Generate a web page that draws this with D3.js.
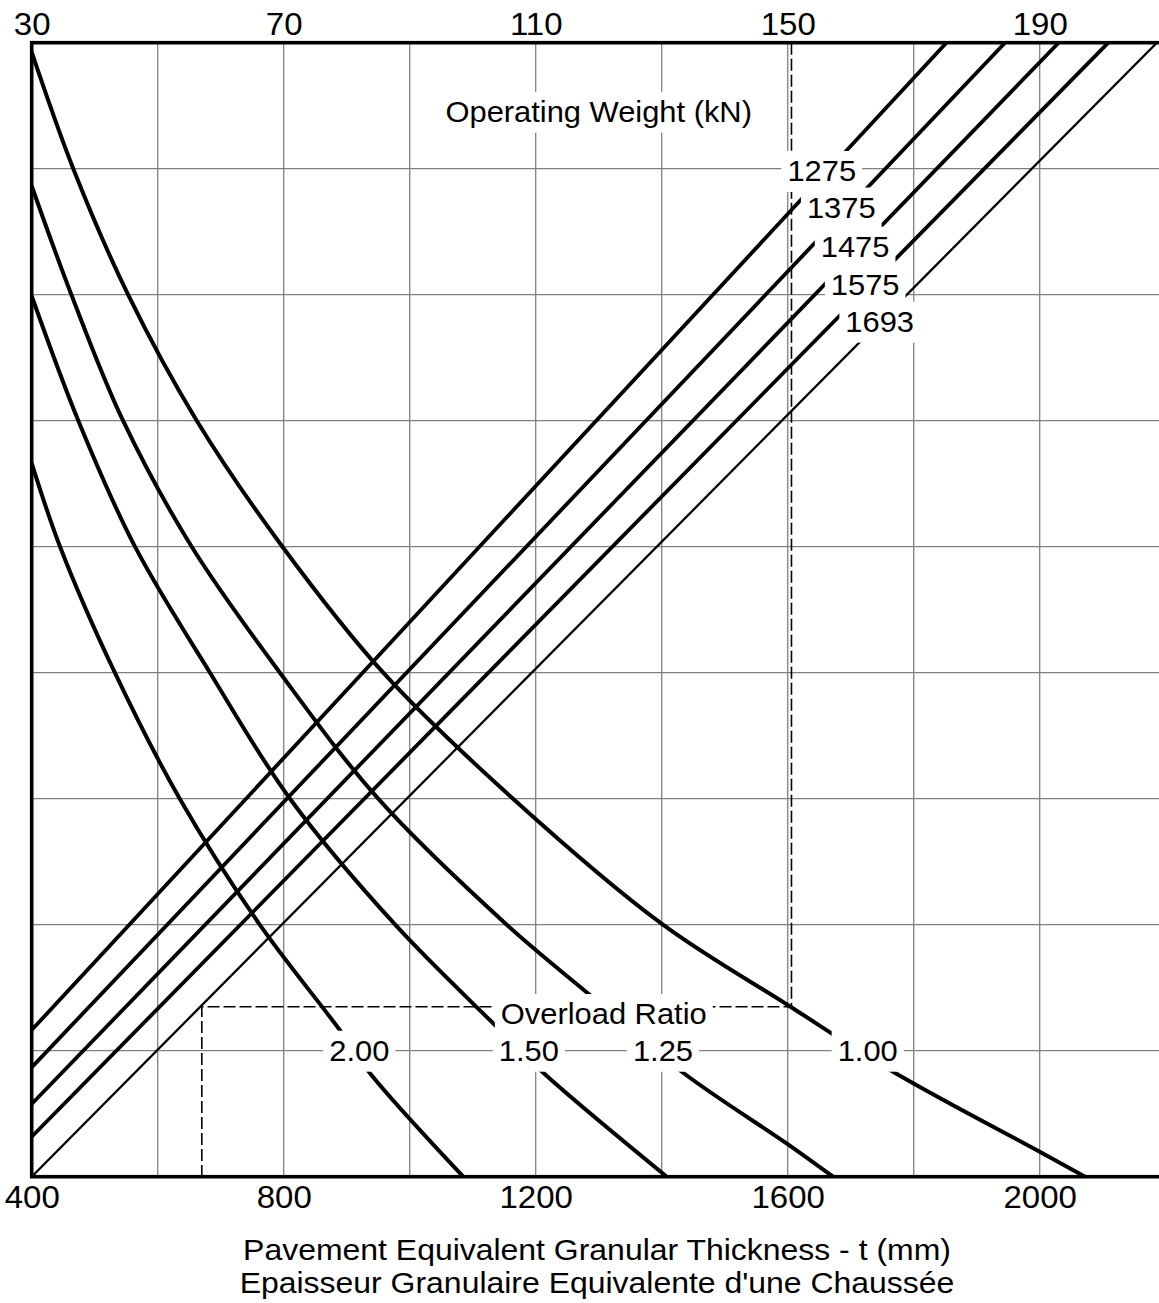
<!DOCTYPE html>
<html>
<head>
<meta charset="utf-8">
<script src="https://cdn.jsdelivr.net/npm/d3@7"></script>
<style>
  html, body { margin: 0; padding: 0; background: #fff; }
  svg { display: block; }
  text { font-family: "Liberation Sans", Arial, Helvetica, sans-serif; fill: #000; }
</style>
</head>
<body>
<svg id="chart" width="1159" height="1303"></svg>
<script>
// ---- axis ticks ----
const thicknessTicks = [400, 800, 1200, 1600, 2000];
const topTicks = [30, 70, 110, 150, 190];
const gridThickness = [600, 800, 1000, 1200, 1400, 1600, 1800, 2000];
const gridRows = [1, 2, 3, 4, 5, 6, 7, 8];

// ---- overload ratio curves: [thickness (mm), chart row units] ----
const ratioLabels = ["2.00", "1.50", "1.25", "1.00"];
const ratio200 = [[400, 5.664], [445, 5.0], [532, 4.0], [635, 3.0], [762, 2.0], [889, 1.164], [937, 0.821], [1085, 0]];
const ratio150 = [[400, 6.99], [474, 6.0], [564, 5.0], [683, 4.0], [810, 3.0], [977, 2.0], [1138, 1.19], [1212, 0.825], [1408, 0]];
const ratio125 = [[400, 7.863], [463, 7.0], [545, 6.0], [654, 5.0], [794, 4.0], [950, 3.0], [1154, 2.0], [1286, 1.442], [1434, 0.825], [1601, 0.255], [1672, 0]];
const ratio100 = [[400, 8.925], [466, 8.0], [553, 7.0], [662, 6.0], [798, 5.0], [958, 4.0], [1164, 3.0], [1402, 2.0], [1600, 1.363], [1770, 0.825], [2000, 0.198], [2072, 0]];
const ratioLabelT = [920, 1189, 1402, 1727];

// ---- operating weight lines (kN): start row at t = 400, thickness where row 9 is reached ----
const weights = ["1275", "1375", "1475", "1575", "1693"];
const weightStartRow = [1.164, 0.868, 0.577, 0.317, 0];
const weightEndT = [1852, 1945, 2030, 2109, 2186];
const weightLabelT = [1654, 1685, 1707, 1723, 1746];
const weightLabelRow = [7.982, 7.692, 7.381, 7.077, 6.786];

// ---- worked example path ----
const exampleT = [1606, 670];
const exampleRow = 1.349;

// ---- layout ----
const SX = 1.065;           // horizontal stretch of the lettering
const plot = { left: 31.7, top: 42.7, size: 1134 };

const svg = d3.select("#chart");
const x = d3.scaleLinear().domain([400, 2200]).range([plot.left, plot.left + plot.size]);
const xTop = d3.scaleLinear().domain([30, 210]).range([plot.left, plot.left + plot.size]);
const y = d3.scaleLinear().domain([0, 9]).range([plot.top + plot.size, plot.top]);

// grid
const grid = svg.append("g").attr("stroke", "#808080").attr("stroke-width", 1.3);
grid.selectAll("line.v").data(gridThickness).join("line")
  .attr("x1", d => x(d)).attr("x2", d => x(d))
  .attr("y1", y(0)).attr("y2", y(9));
grid.selectAll("line.h").data(gridRows).join("line")
  .attr("x1", x(400)).attr("x2", x(2200))
  .attr("y1", d => y(d)).attr("y2", d => y(d));

// overload ratio curves
const curveLine = d3.line().x(d => x(d[0])).y(d => y(d[1])).curve(d3.curveCatmullRom.alpha(0.5));
const ratioSeries = [ratio200, ratio150, ratio125, ratio100];
svg.append("g").selectAll("path").data(ratioSeries).join("path")
  .attr("d", curveLine)
  .attr("fill", "none").attr("stroke", "#000").attr("stroke-width", 4);

// operating weight lines
const weightSeries = weights.map((w, i) => [[400, weightStartRow[i]], [weightEndT[i], 9]]);
svg.append("g").selectAll("path").data(weightSeries).join("path")
  .attr("d", d3.line().x(d => x(d[0])).y(d => y(d[1])))
  .attr("fill", "none").attr("stroke", "#000")
  .attr("stroke-width", (d, i) => i === weights.length - 1 ? 2.3 : 3.8);

// worked example (dashed)
svg.append("path")
  .attr("d", d3.line()([
    [x(exampleT[0]), y(9)], [x(exampleT[0]), y(exampleRow)],
    [x(exampleT[1]), y(exampleRow)], [x(exampleT[1]), y(0)]
  ]))
  .attr("fill", "none").attr("stroke", "#000").attr("stroke-width", 1.6)
  .attr("stroke-dasharray", "12,4");

// frame
svg.append("rect")
  .attr("x", plot.left).attr("y", plot.top)
  .attr("width", plot.size).attr("height", plot.size)
  .attr("fill", "none").attr("stroke", "#000").attr("stroke-width", 3.6);

// axes
function styleAxis(g, fs) {
  g.select(".domain").remove();
  g.selectAll("line").remove();
  g.attr("font-family", null);
  g.selectAll("text").attr("font-size", fs).attr("fill", "#000")
    .attr("transform", `scale(${SX},1)`);
}
svg.append("g").attr("transform", `translate(0,${y(0)})`)
  .call(d3.axisBottom(x).tickValues(thicknessTicks).tickFormat(d3.format("d")).tickSize(0).tickPadding(9.3))
  .call(g => styleAxis(g, 31));
svg.append("g").attr("transform", `translate(0,${y(9)})`)
  .call(d3.axisTop(xTop).tickValues(topTicks).tickFormat(d3.format("d")).tickSize(0).tickPadding(7.7))
  .call(g => styleAxis(g, 31));

// labels on white boxes
const labels = svg.append("g");
function boxedLabel(px, py, str, fs) {
  const g = labels.append("g").attr("transform", `translate(${px},${py})`);
  const r = g.append("rect").attr("fill", "#fff");
  const t = g.append("text").attr("text-anchor", "middle").attr("dy", "0.35em")
    .attr("font-size", fs).attr("transform", `scale(${SX},1)`).text(str);
  const bb = t.node().getBBox();
  r.attr("x", bb.x * SX - 6).attr("width", bb.width * SX + 12)
   .attr("y", -20).attr("height", 41);
}
boxedLabel(x(1300), y(8.452), "Operating Weight (kN)", 29);
weights.forEach((w, i) => boxedLabel(x(weightLabelT[i]), y(weightLabelRow[i]), w, 29));
boxedLabel(x(1308), y(1.291), "Overload Ratio", 29);
ratioLabels.forEach((r, i) => boxedLabel(x(ratioLabelT[i]), y(1.0), r, 29));

// axis titles
const titleX = 597;
[["Pavement Equivalent Granular Thickness - t (mm)", 1260],
 ["Epaisseur Granulaire Equivalente d'une Chaussée", 1293]].forEach(([s, by]) => {
  svg.append("text").attr("text-anchor", "middle").attr("font-size", 30)
    .attr("transform", `translate(${titleX},${by}) scale(${SX},1)`).text(s);
});
</script>
</body>
</html>
